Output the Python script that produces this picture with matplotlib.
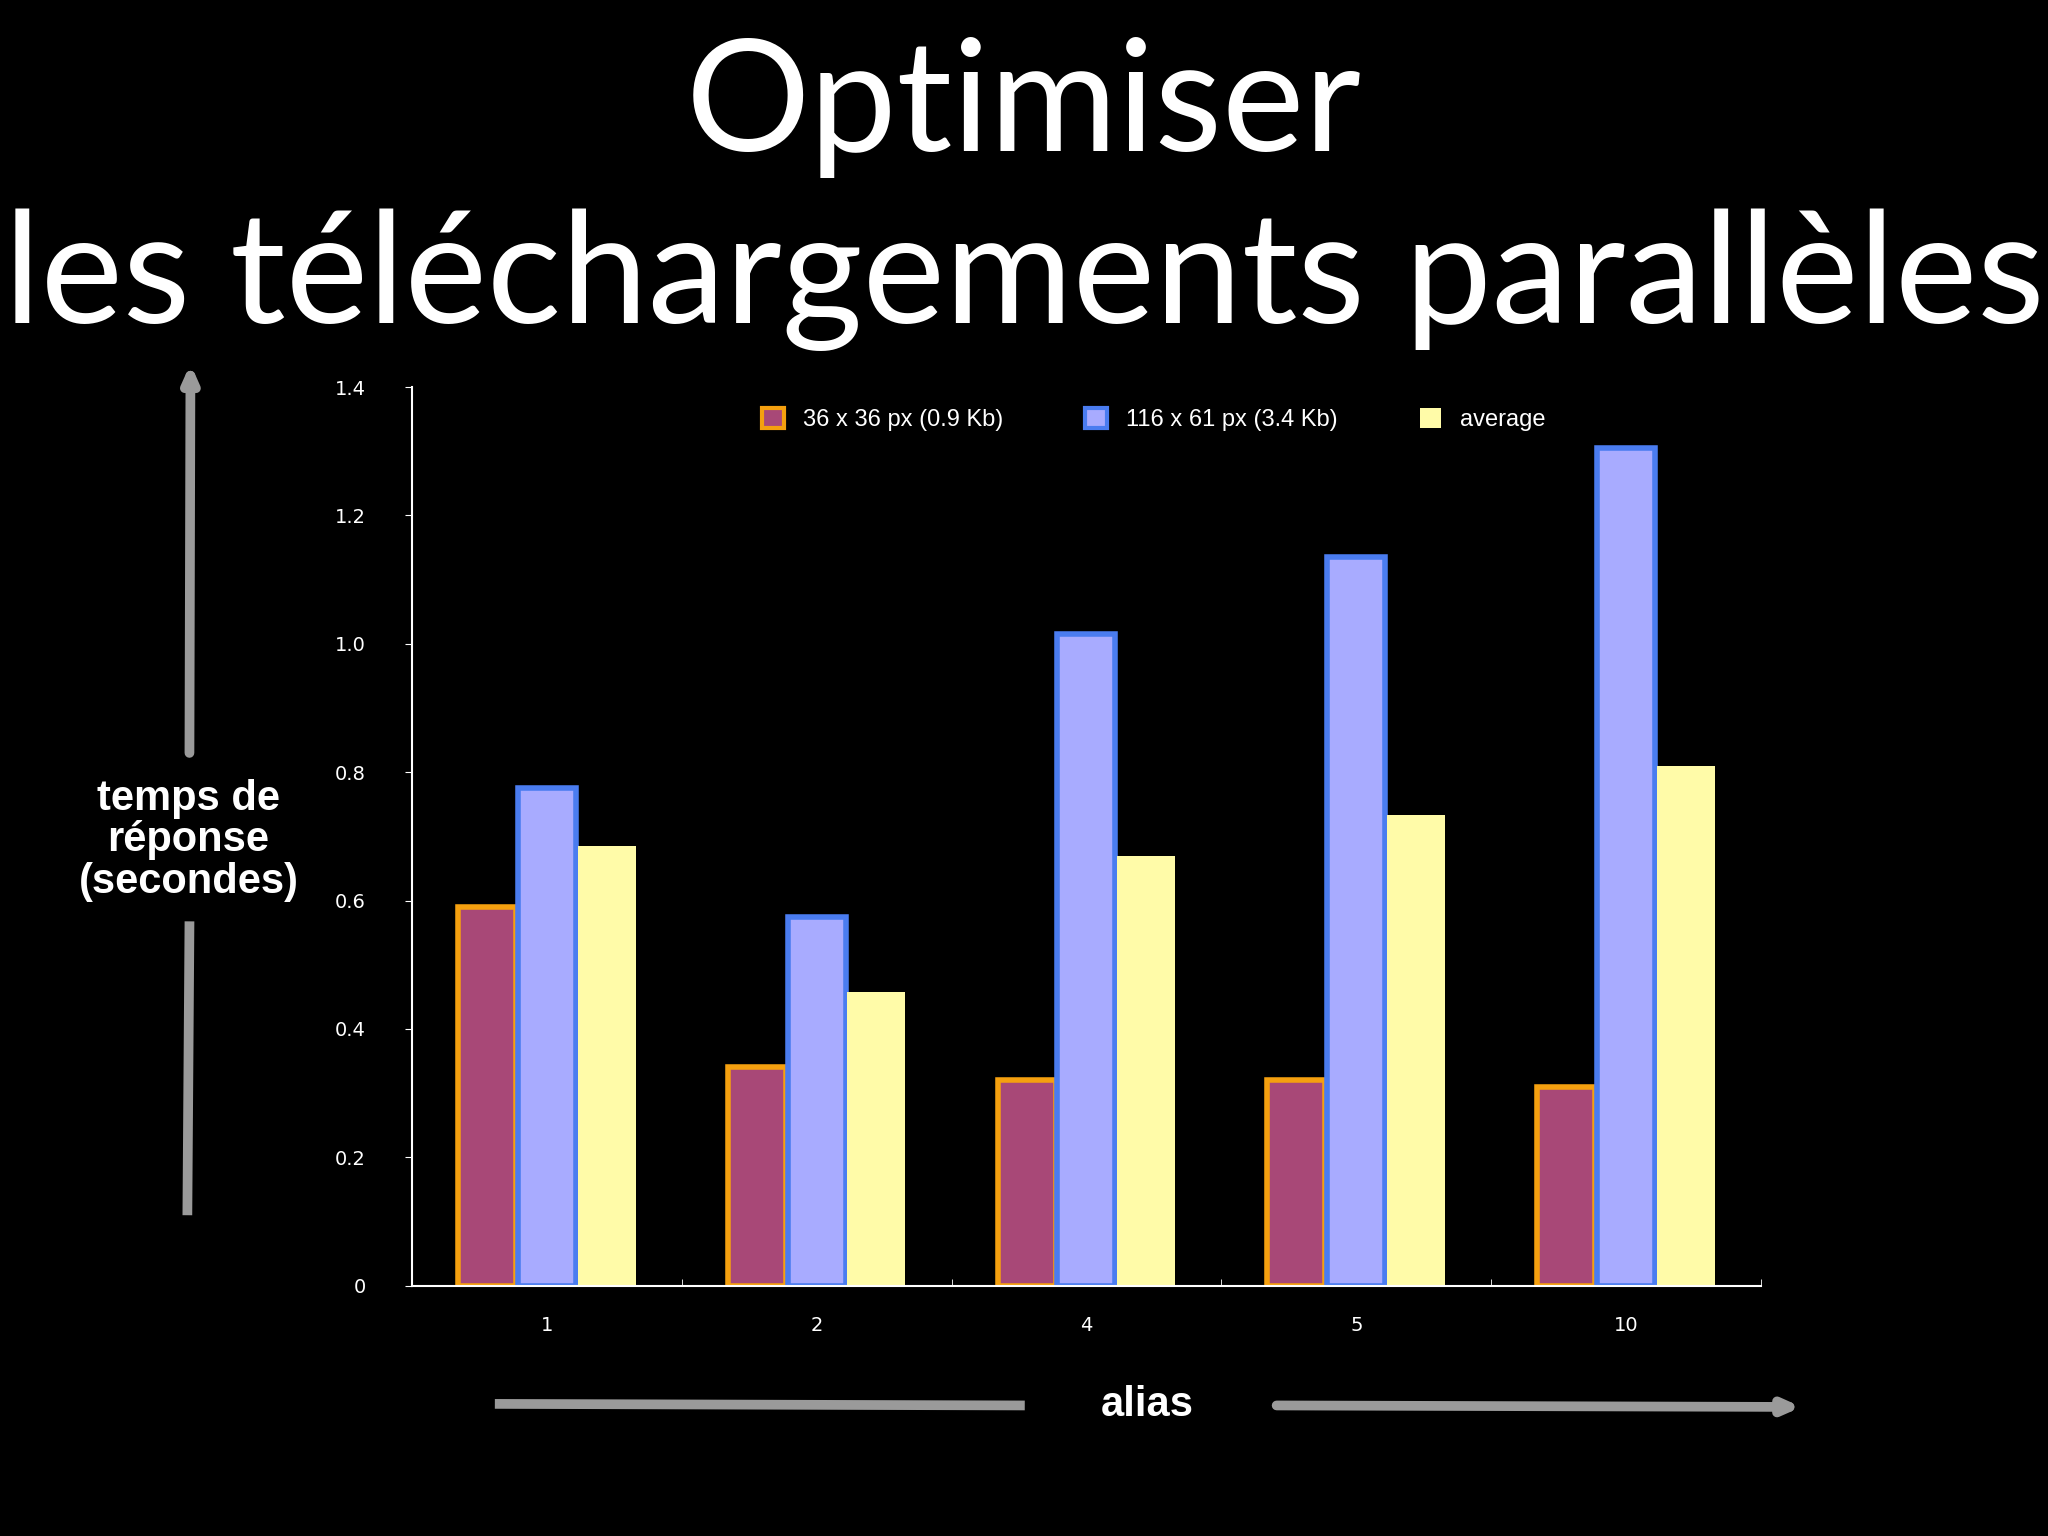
import numpy as np
import matplotlib
matplotlib.use("Agg")
import matplotlib.pyplot as plt
from matplotlib.patches import Patch

categories = ["1", "2", "4", "5", "10"]
small = [0.59, 0.34, 0.32, 0.32, 0.31]
large = [0.775, 0.575, 1.015, 1.135, 1.305]
average = [0.685, 0.458, 0.670, 0.733, 0.810]

C_SMALL, C_SMALL_E = "#A84877", "#F5A00F"
C_LARGE, C_LARGE_E = "#A8ABFF", "#4A7CF0"
C_AVG = "#FFFBA8"

fig = plt.figure(figsize=(20.48, 15.36), dpi=100, facecolor="black")
ax = fig.add_axes([0.201, 0.163, 0.659, 0.585])
ax.set_facecolor("black")

x = np.arange(len(categories))
w = 0.215
ax.bar(x - 0.222, small, w, color=C_SMALL, edgecolor=C_SMALL_E, lw=4)
ax.bar(x, large, w, color=C_LARGE, edgecolor=C_LARGE_E, lw=4)
ax.bar(x + 0.222, average, w, color=C_AVG, lw=0)

ax.set_xlim(-0.5, 4.5)
ax.set_ylim(0, 1.4)
ax.set_yticks([0, 0.2, 0.4, 0.6, 0.8, 1.0, 1.2, 1.4],
              ["0", "0.2", "0.4", "0.6", "0.8", "1.0", "1.2", "1.4"])
ax.set_xticks(x, categories)
ax.set_xticks(np.arange(-0.5, 5, 1), minor=True)
ax.tick_params(axis="x", which="major", length=0, pad=22)
ax.tick_params(axis="x", which="minor", length=5, color="white", direction="in")
ax.tick_params(axis="y", length=5, color="white", pad=28)
ax.tick_params(colors="white", labelsize=14)
for s in ["top", "right"]:
    ax.spines[s].set_visible(False)
for s in ["left", "bottom"]:
    ax.spines[s].set_color("white")
    ax.spines[s].set_linewidth(1.5)

handles = [Patch(facecolor=C_SMALL, edgecolor=C_SMALL_E, lw=3, label="36 x 36 px (0.9 Kb)"),
           Patch(facecolor=C_LARGE, edgecolor=C_LARGE_E, lw=3, label="116 x 61 px (3.4 Kb)"),
           Patch(facecolor=C_AVG, label="average")]
ax.legend(handles=handles, loc="upper center", bbox_to_anchor=(0.55, 1.0), ncols=3,
          frameon=False, fontsize=17, labelcolor="white", handlelength=0.9,
          handleheight=0.9, columnspacing=3.5, prop={"family": "Liberation Sans", "size": 17})

fig.text(0.5, 0.93, "Optimiser", ha="center", va="center", color="white",
         fontsize=112, family="Lato")
fig.text(0.5, 0.818, "les téléchargements parallèles", ha="center", va="center",
         color="white", fontsize=112, family="Lato")

fig.text(0.092, 0.453, "temps de\nréponse\n(secondes)", ha="center", va="center",
         color="white", fontsize=30, fontweight="bold", family="Liberation Sans",
         linespacing=1.05)
fig.text(0.56, 0.085, "alias", ha="center", va="center", color="white",
         fontsize=30, fontweight="bold", family="Liberation Sans")

grey = "#9A9A9A"
fig.add_artist(plt.Line2D([0.0915, 0.0925], [0.212, 0.397], color=grey, lw=7,
                          transform=fig.transFigure))
fig.add_artist(plt.Line2D([0.244, 0.498], [0.086, 0.085], color=grey, lw=7,
                          transform=fig.transFigure))
ax.annotate("", xy=(0.093, 0.765), xytext=(0.0925, 0.508), xycoords="figure fraction",
            arrowprops=dict(arrowstyle="-|>,head_width=0.4,head_length=0.9",
                            color=grey, lw=7))
ax.annotate("", xy=(0.881, 0.084), xytext=(0.622, 0.085), xycoords="figure fraction",
            arrowprops=dict(arrowstyle="-|>,head_width=0.4,head_length=0.9",
                            color=grey, lw=7))

fig.savefig("out.png", dpi=100, facecolor="black")
